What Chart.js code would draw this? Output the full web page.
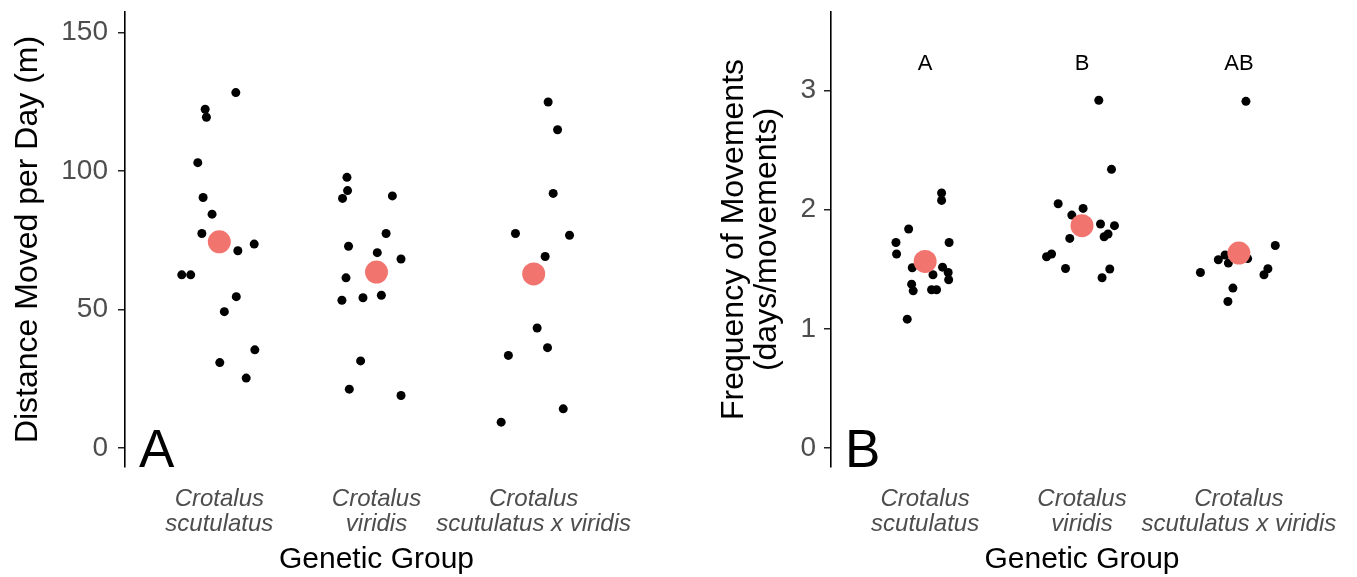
<!DOCTYPE html>
<html>
<head>
<meta charset="utf-8">
<script src="https://cdn.jsdelivr.net/npm/chart.js@4.4.1/dist/chart.umd.min.js"></script>
<style>
  body { margin: 0; background: #fff; }
  .panel { position: absolute; top: 0; height: 577px; }
  #panelA { left: 0; width: 660px; }
  #panelB { left: 680px; width: 677px; }
</style>
</head>
<body>
<div class="panel" id="panelA"><canvas id="chartA"></canvas></div>
<div class="panel" id="panelB"><canvas id="chartB"></canvas></div>
<script>
const groupNames = [['Crotalus', 'scutulatus'], ['Crotalus', 'viridis'], ['Crotalus', 'scutulatus x viridis']];

// panel A: distance moved per day (m), x = jittered group position
const distScutulatus = [128.3, 122.3, 119.4, 103.0, 90.4, 84.4, 77.4, 71.2, 73.6, 62.5, 62.5, 54.6, 49.2, 35.4, 30.8, 25.2];
const distScutulatusX = [1.105, 0.910, 0.918, 0.863, 0.897, 0.954, 0.889, 1.118, 1.222, 0.761, 0.818, 1.108, 1.032, 1.226, 1.003, 1.171];
const distViridis = [97.7, 92.9, 90.1, 91.0, 77.4, 72.8, 70.5, 68.2, 61.4, 53.3, 54.2, 55.1, 31.4, 21.2, 18.9];
const distViridisX = [1.812, 1.816, 1.784, 2.101, 2.061, 1.822, 2.005, 2.156, 1.806, 1.780, 1.914, 2.031, 1.899, 1.827, 2.156];
const distHybrid = [124.9, 114.9, 91.9, 77.4, 76.8, 69.1, 43.3, 36.2, 33.4, 14.1, 9.3];
const distHybridX = [3.092, 3.152, 3.124, 2.884, 3.228, 3.073, 3.022, 3.088, 2.839, 3.188, 2.793];
const distMeans = [74.4, 63.5, 62.8];
const distTicks = [0, 50, 100, 150];

// panel B: frequency of movements (days/movements)
const freqScutulatus = [2.140, 2.078, 1.838, 1.725, 1.725, 1.628, 1.513, 1.518, 1.473, 1.454, 1.412, 1.375, 1.319, 1.328, 1.328, 1.081];
const freqScutulatusX = [1.105, 1.105, 0.895, 0.814, 1.153, 0.818, 0.918, 1.111, 1.147, 1.050, 1.150, 0.914, 0.924, 1.041, 1.073, 0.886];
const freqViridis = [2.919, 2.339, 2.050, 2.011, 1.955, 1.880, 1.866, 1.796, 1.773, 1.759, 1.628, 1.605, 1.507, 1.502, 1.429];
const freqViridisX = [2.107, 2.188, 1.848, 2.007, 1.935, 2.118, 2.207, 2.166, 2.141, 1.922, 1.806, 1.774, 1.895, 2.177, 2.128];
const freqHybrid = [2.910, 1.700, 1.580, 1.620, 1.552, 1.590, 1.473, 1.504, 1.454, 1.342, 1.229];
const freqHybridX = [3.045, 3.232, 2.869, 2.912, 2.933, 3.056, 2.755, 3.185, 3.160, 2.962, 2.930];
const freqMeans = [1.566, 1.866, 1.636];
const freqTicks = [0, 1, 2, 3];
const freqLetters = ['A', 'B', 'AB'];
const freqLetterY = 3.22;

const FONT = "'Liberation Sans', Arial, sans-serif";
const MEAN_COLOR = '#F1746F';

function pts(xs, ys) {
  return ys.map((y, i) => ({ x: xs[i], y: y }));
}

// draws the significance letters and the big panel tag
const annotPlugin = {
  id: 'annot',
  afterDatasetsDraw(chart, args, opts) {
    const ctx = chart.ctx;
    const { x, y } = chart.scales;
    ctx.save();
    ctx.fillStyle = '#000';
    if (opts.letters) {
      ctx.font = '22px ' + FONT;
      ctx.textAlign = 'center';
      ctx.textBaseline = 'middle';
      opts.letters.forEach((l, i) => {
        ctx.fillText(l, x.getPixelForValue(i + 1), y.getPixelForValue(opts.letterY));
      });
    }
    ctx.font = '53px ' + FONT;
    ctx.textAlign = 'left';
    ctx.textBaseline = 'alphabetic';
    ctx.fillText(opts.tag, chart.chartArea.left + 14, chart.chartArea.bottom);
    ctx.restore();
  }
};

function makeChart(id, o) {
  const datasets = [
    { data: o.means.map((m, i) => ({ x: i + 1, y: m })), pointRadius: 11.5, backgroundColor: MEAN_COLOR, borderWidth: 0 },
    { data: o.points, pointRadius: 4.5, backgroundColor: '#000', borderWidth: 0 }
  ];
  return new Chart(document.getElementById(id), {
    type: 'scatter',
    data: { datasets },
    options: {
      responsive: true,
      maintainAspectRatio: false,
      animation: false,
      layout: { padding: { left: 0, top: 12, right: o.padRight, bottom: 0 } },
      plugins: {
        legend: { display: false },
        tooltip: { enabled: false },
        annot: { tag: o.tag, letters: o.letters, letterY: o.letterY }
      },
      scales: {
        x: {
          type: 'linear',
          min: 0.4,
          max: 3.6,
          afterBuildTicks: s => { s.ticks = [1, 2, 3].map(v => ({ value: v })); },
          afterFit: s => { s.height = 110; s.paddingLeft = 0; s.paddingRight = 0; },
          border: { display: false },
          grid: { display: false },
          ticks: {
            padding: 12,
            color: '#4d4d4d',
            font: { family: FONT, size: 24, style: 'italic', lineHeight: 1.05 },
            maxRotation: 0,
            autoSkip: false,
            callback: v => groupNames[v - 1]
          },
          title: {
            display: true,
            text: 'Genetic Group',
            color: '#000',
            font: { family: FONT, size: 30, lineHeight: 1.1 },
            padding: { top: 0, bottom: 1 }
          }
        },
        y: {
          min: o.yMin,
          max: o.yMax,
          afterBuildTicks: s => { s.ticks = o.yTicks.map(v => ({ value: v })); },
          afterFit: s => { s.width = o.yWidth; s.paddingTop = 0; s.paddingBottom = 0; },
          border: { display: true, color: '#000', width: 1.6 },
          grid: { display: true, drawOnChartArea: false, drawTicks: true, tickLength: 7, tickColor: '#222', lineWidth: 1.5 },
          ticks: {
            padding: o.tickPad,
            color: '#4d4d4d',
            font: { family: FONT, size: 28 }
          },
          title: {
            display: true,
            text: o.yTitle,
            color: '#000',
            font: { family: FONT, size: 32, lineHeight: 1.05 },
            padding: { top: o.titlePad, bottom: 0 }
          }
        }
      }
    },
    plugins: [annotPlugin]
  });
}

makeChart('chartA', {
  points: pts(distScutulatusX, distScutulatus).concat(pts(distViridisX, distViridis), pts(distHybridX, distHybrid)),
  means: distMeans,
  yMin: -6.9, yMax: 157.4, yTicks: distTicks,
  yWidth: 125, padRight: 32, tickPad: 10, titlePad: 11,
  yTitle: 'Distance Moved per Day (m)',
  tag: 'A'
});

makeChart('chartB', {
  points: pts(freqScutulatusX, freqScutulatus).concat(pts(freqViridisX, freqViridis), pts(freqHybridX, freqHybrid)),
  means: freqMeans,
  yMin: -0.16, yMax: 3.66, yTicks: freqTicks,
  yWidth: 151, padRight: 24, tickPad: 8, titlePad: 37,
  yTitle: ['Frequency of Movements', '(days/movements)'],
  tag: 'B', letters: freqLetters, letterY: freqLetterY
});
</script>
</body>
</html>
